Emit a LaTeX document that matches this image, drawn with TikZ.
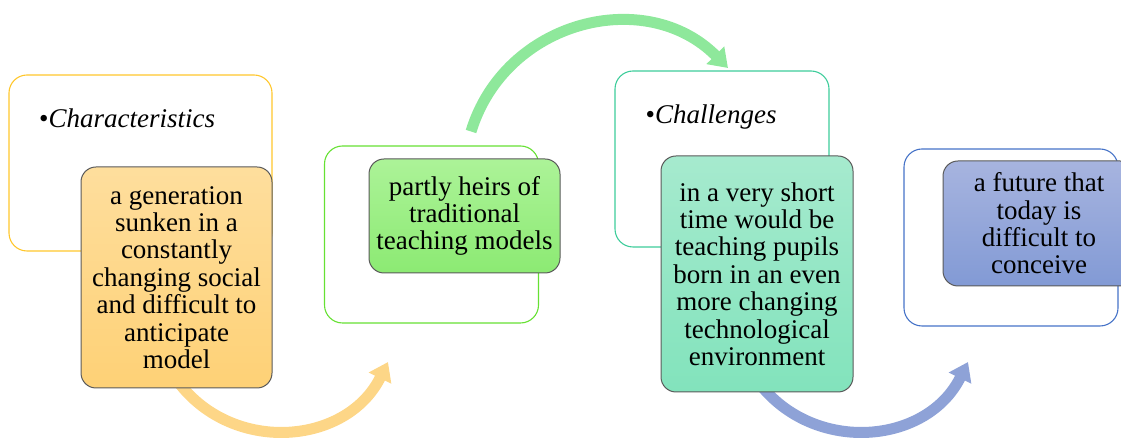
\documentclass[tikz,border=0pt]{standalone}
\usepackage{fontspec}
\setmainfont{Liberation Serif}
\usepackage{tikz}
\usepackage{xcolor}
\usetikzlibrary{positioning, arrows.meta}
\definecolor{stgyellow}{RGB}{255, 199, 44}
\definecolor{stggreen}{RGB}{102, 225, 51}
\definecolor{stgteal}{RGB}{62, 205, 155}
\definecolor{stgblue}{RGB}{70, 115, 200}
\definecolor{notegray}{RGB}{90, 90, 90}
\definecolor{arrowyellow}{RGB}{253, 214, 135}
\definecolor{arrowgreen}{RGB}{142, 232, 155}
\definecolor{arrowblue}{RGB}{142, 162, 215}
\tikzset{
    framebox/.style={draw, rounded corners=18pt, line width=1.1pt, fill=white, minimum width=214pt, minimum height=176pt},
    notebox/.style={draw=notegray, rounded corners=15pt, line width=1pt, minimum width=191pt, align=center, inner sep=0pt, font={\rmfamily\fontsize{27}{27.4}\selectfont}},
    yellownote/.style={notebox, top color={rgb,255:red,254;green,222;blue,157}, bottom color={rgb,255:red,254;green,209;blue,118}},
    greennote/.style={notebox, top color={rgb,255:red,172;green,243;blue,152}, bottom color={rgb,255:red,140;green,234;blue,115}},
    tealnote/.style={notebox, top color={rgb,255:red,166;green,234;blue,206}, bottom color={rgb,255:red,130;green,227;blue,188}},
    bluenote/.style={notebox, top color={rgb,255:red,167;green,180;blue,223}, bottom color={rgb,255:red,130;green,154;blue,213}},
    flowarrow/.style={line width=11pt, -{Triangle[length=18pt, width=24pt]}},
    bullettext/.style={anchor=base west, inner sep=0pt, font={\rmfamily\fontsize{27}{27.4}\selectfont\itshape}}
}
\begin{document}
\begin{tikzpicture}[x=1pt, y=1pt]
    \useasboundingbox (0,0) rectangle (1121,438);
    \clip (0,0) rectangle (1121,438);
    % frames
    \node[framebox, draw=stgyellow, minimum width=263pt] (frame1) at (140.5,275) {};
    \node[framebox, draw=stggreen, minimum height=177pt] (frame2) at (431.5,203.5) {};
    \node[framebox, draw=stgteal] (frame3) at (722,279) {};
    \node[framebox, draw=stgblue, minimum height=177pt] (frame4) at (1011,200.5) {};
    % arrows
    \coordinate (arrow1start) at (175.4,59.9);
    \coordinate (arrow1end) at (388,76);
    \coordinate (arrow2start) at (471,306.5);
    \coordinate (arrow2end) at (728,370);
    \coordinate (arrow3start) at (755.4,59.9);
    \coordinate (arrow3end) at (968,76);
    \draw[flowarrow, draw=arrowyellow] (arrow1start) to[out=305, in=243.6, looseness=1.13] (arrow1end);
    \draw[flowarrow, draw=arrowgreen] (arrow2start) to[out=73, in=134.8, looseness=1.125] (arrow2end);
    \draw[flowarrow, draw=arrowblue] (arrow3start) to[out=305, in=243.6, looseness=1.13] (arrow3end);
    % notes
    \node[yellownote, minimum height=221pt] (note1) at (176.5,160.5) {a generation\\ sunken in a\\ constantly\\ changing social\\ and difficult to\\ anticipate\\ model};
    \node[greennote, minimum height=114pt] (note2) at (464.5,222) {partly heirs of\\ traditional\\ teaching models};
    \node[tealnote, minimum width=192pt, minimum height=236pt] (note3) at (757,164) {in a very short\\ time would be\\ teaching pupils\\ born in an even\\ more changing\\ technological\\ environment};
    \node[bluenote, minimum width=192pt, minimum height=125pt] (note4) at (1039,214.5) {a future that\\ today is\\ difficult to\\ conceive};
    % labels
    \node[bullettext] (label1) at (39,310.5) {{\upshape\textbullet}Characteristics};
    \node[bullettext] (label3) at (645.5,314.5) {{\upshape\textbullet}Challenges};
\end{tikzpicture}
\end{document}
